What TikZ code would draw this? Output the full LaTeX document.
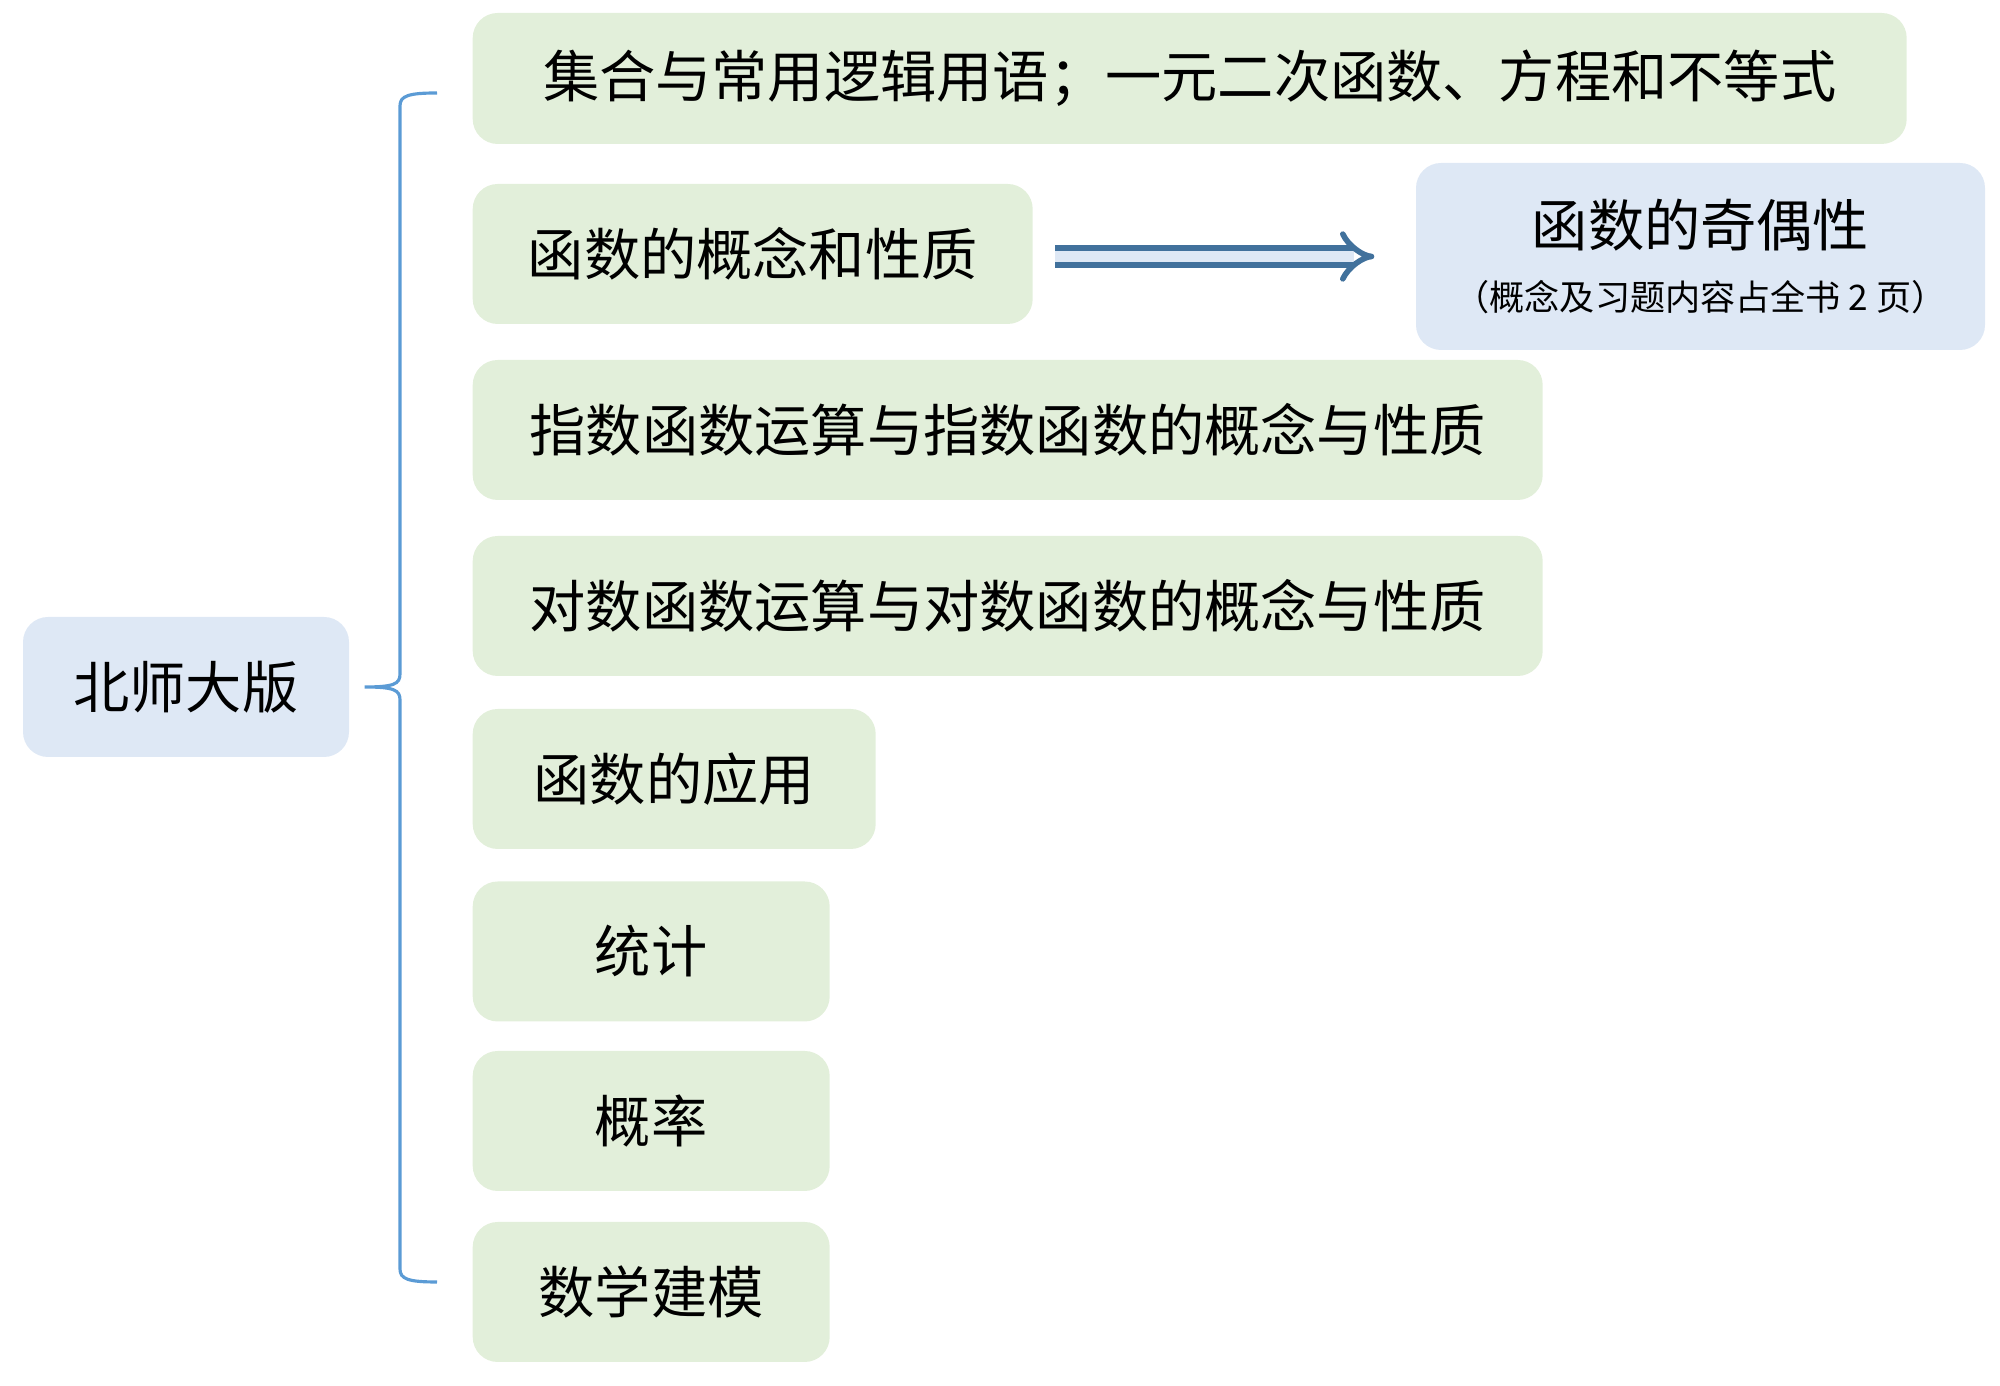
\documentclass[tikz,border=0pt]{standalone}
\usepackage{fontspec}
\setmainfont{Noto Sans CJK SC}
\usetikzlibrary{positioning,arrows.meta}

\definecolor{topicgreen}{HTML}{E2EFDA}
\definecolor{rootblue}{HTML}{DEE8F5}
\definecolor{bracecol}{HTML}{5B9BD5}
\definecolor{arrowcol}{HTML}{41719C}

\begin{document}
\begin{tikzpicture}[
    topic/.style={draw=none, fill=topicgreen, rounded corners=0.25cm, anchor=west,
      minimum height=1.4cm, inner sep=0pt, font=\fontsize{16pt}{19pt}\selectfont},
    rootbox/.style={draw=none, fill=rootblue, rounded corners=0.25cm,
      inner sep=0pt, font=\fontsize{16pt}{19pt}\selectfont},
    braceline/.style={draw=bracecol, line width=0.9pt},
    hollow/.style={draw=arrowcol, line width=1.6pt, double=rootblue,
      double distance=3.2pt, -{Implies}}]
    \useasboundingbox (0,0) rectangle (20,13.86);

    % Nodes
    \node (root) [rootbox, minimum width=3.26cm, minimum height=1.4cm] at (1.86,6.99) {北师大版};
    \node (b1) [topic, minimum width=14.34cm, minimum height=1.31cm] at (4.72,13.075) {集合与常用逻辑用语；一元二次函数、方程和不等式};
    \node (b2) [topic, minimum width=5.60cm] at (4.72,11.32) {函数的概念和性质};
    \node (b3) [topic, minimum width=10.70cm] at (4.72,9.56) {指数函数运算与指数函数的概念与性质};
    \node (b4) [topic, minimum width=10.70cm] at (4.72,7.80) {对数函数运算与对数函数的概念与性质};
    \node (b5) [topic, minimum width=4.03cm] at (4.72,6.07) {函数的应用};
    \node (b6) [topic, minimum width=3.57cm] at (4.72,4.345) {统计};
    \node (b7) [topic, minimum width=3.57cm] at (4.72,2.65) {概率};
    \node (b8) [topic, minimum width=3.57cm] at (4.72,0.94) {数学建模};
    \node (odd) [rootbox, minimum width=5.69cm, minimum height=1.87cm, align=center] at (17.005,11.295)
      {函数的奇偶性\\[-0.02cm]{\fontsize{10pt}{12pt}\selectfont （概念及习题内容占全书 2 页）}};

    % Brace
    \coordinate (bt) at (4.37,12.93);
    \coordinate (bb) at (4.37,1.04);
    \coordinate (tip) at ([xshift=0.15cm]root.east);
    \draw[braceline] (bt) .. controls (4.08,12.93) and (4.00,12.90) .. (4.00,12.80)
      -- (4.00,7.12) .. controls (4.00,7.02) and (3.94,6.99) .. (tip)
      .. controls (3.94,6.99) and (4.00,6.96) .. (4.00,6.86)
      -- (4.00,1.17) .. controls (4.00,1.07) and (4.08,1.04) .. (bb);

    % Arrow
    \draw[hollow, shorten <=0.22cm, shorten >=0.41cm] (b2.east |- odd.west) -- (odd.west);
\end{tikzpicture}
\end{document}
